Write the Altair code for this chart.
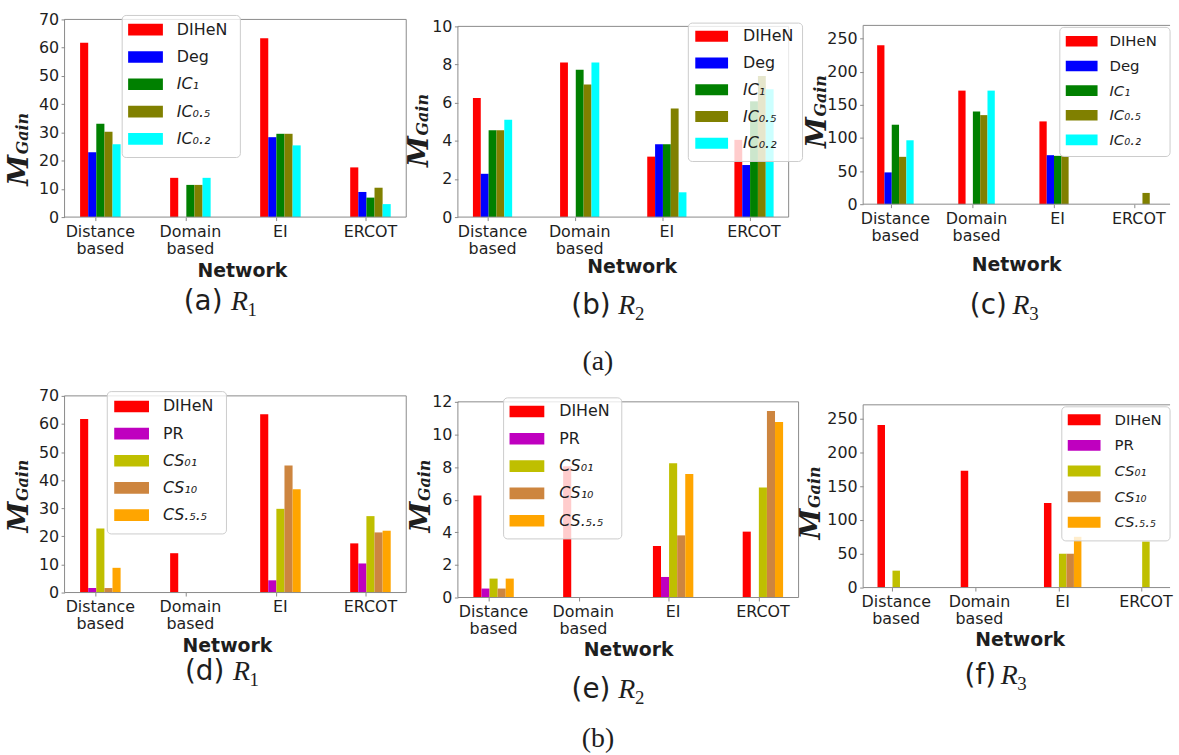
import altair as alt
import pandas as pd

# ---------------- data ----------------
categories = ["Distance based", "Domain based", "EI", "ERCOT"]

series_ic = ["DIHeN", "Deg", "IC1", "IC0.5", "IC0.2"]
labels_ic = ["DIHeN", "Deg", "IC₁", "IC₀.₅", "IC₀.₂"]
series_cs = ["DIHeN", "PR", "CS01", "CS10", "CS.5.5"]
labels_cs = ["DIHeN", "PR", "CS₀₁", "CS₁₀", "CS.₅.₅"]
italic_flags = [False, False, True, True, True]

all_series = ["DIHeN", "Deg", "IC1", "IC0.5", "IC0.2", "PR", "CS01", "CS10", "CS.5.5"]
all_colors = ["#ff0000", "#0000ff", "#008000", "#808000", "#00ffff",
              "#bf00bf", "#bfbf00", "#cd853f", "#ffa500"]

# one list per series (in series order), values in category order
r1_ic = [[61.7, 13.9, 63.3, 17.6],
         [23.0, 0.0, 28.3, 8.9],
         [33.1, 11.4, 29.5, 6.9],
         [30.2, 11.4, 29.5, 10.4],
         [25.8, 13.9, 25.4, 4.6]]
r2_ic = [[6.25, 8.1, 3.17, 4.05],
         [2.27, 0.0, 3.82, 2.73],
         [4.55, 7.73, 3.82, 6.07],
         [4.55, 6.95, 5.7, 7.4],
         [5.1, 8.1, 1.3, 6.7]]
r3_ic = [[240, 171.5, 125, 0],
         [48, 0, 74, 0],
         [120, 140, 73, 0],
         [71.5, 134.5, 73, 17],
         [96.5, 171.5, 0, 0]]
r1_cs = [[61.8, 14.0, 63.5, 17.5],
         [1.6, 0.0, 4.35, 10.35],
         [22.8, 0.0, 29.8, 27.2],
         [1.6, 0.0, 45.2, 21.4],
         [8.8, 0.0, 36.8, 22.0]]
r2_cs = [[6.25, 8.05, 3.16, 4.04],
         [0.55, 0.0, 1.26, 0.0],
         [1.16, 0.0, 8.23, 6.75],
         [0.55, 0.0, 3.81, 11.44],
         [1.16, 0.0, 7.57, 10.77]]
r3_cs = [[240, 172.5, 125, 0],
         [0, 0, 0, 0],
         [25, 0, 50, 68],
         [0, 0, 50, 0],
         [0, 0, 75, 0]]

yt_70 = [0, 10, 20, 30, 40, 50, 60, 70]
yt_10 = [0, 2, 4, 6, 8, 10]
yt_12 = [0, 2, 4, 6, 8, 10, 12]
yt_250 = [0, 50, 100, 150, 200, 250]

# ---------------- styling helpers ----------------
one = pd.DataFrame({"k": [0]})
FRAME = "#8a8a8a"
TXT = "#1e1e1e"
color_scale = alt.Scale(domain=all_series, range=all_colors)


def text_mark(s, x, y, size, font, weight="normal", style="normal", angle=0):
    return alt.Chart(one).mark_text(
        text=s, font=font, fontSize=size, fontWeight=weight, fontStyle=style,
        angle=angle, align="center", baseline="middle", color=TXT
    ).encode(x=alt.value(x), y=alt.value(y))


def rule_mark(x, y, x2, y2, color=FRAME):
    return alt.Chart(one).mark_rule(color=color, strokeWidth=1).encode(
        x=alt.value(x), y=alt.value(y), x2=alt.value(x2), y2=alt.value(y2))


def panel(values, series, labels, ymax, yticks, L):
    rows = []
    for s, vals in zip(series, values):
        for c, v in zip(categories, vals):
            rows.append({"network": c, "series": s, "value": v})
    df = pd.DataFrame(rows)
    H, XR, YT, FR = L["h"], L["xr"], L["ytop"], L["fr"]

    bars = alt.Chart(df).mark_bar().encode(
        x=alt.X("network:N", title=None,
                scale=alt.Scale(domain=categories, range=[0, XR],
                                paddingInner=0.55, paddingOuter=0.1725),
                axis=alt.Axis(labelAngle=0, labelExpr="split(datum.label, ' ')",
                              bandPosition=0.4, domain=False, grid=False,
                              tickSize=3.5, tickColor=FRAME, tickWidth=1,
                              labelFont="DejaVu Sans", labelFontSize=16,
                              labelColor=TXT, labelPadding=3, labelLineHeight=17,
                              labelOverlap=False, labelBaseline="top")),
        xOffset=alt.XOffset("series:N",
                            scale=alt.Scale(domain=series, paddingInner=0, paddingOuter=0)),
        y=alt.Y("value:Q", title=None,
                scale=alt.Scale(domain=[0, ymax], range=[H, YT], nice=False, zero=True),
                axis=alt.Axis(values=yticks, domain=False, grid=False,
                              tickSize=3.5, tickColor=FRAME, tickWidth=1,
                              labelFont="DejaVu Sans", labelFontSize=16,
                              labelColor=TXT, labelPadding=2.5, labelOverlap=False)),
        color=alt.Color("series:N", scale=color_scale, legend=None),
    )

    frame = [rule_mark(0, YT, 0, H), rule_mark(0, H, FR, H), rule_mark(0, YT, FR, YT)]
    if L["right"]:
        frame.append(rule_mark(FR, YT, FR, H))

    ldf = pd.DataFrame({"series": series, "label": labels,
                        "idx": list(range(len(series))), "italic": italic_flags})
    ysc = alt.Scale(domain=[0, len(series) - 1], range=[L["r0"], L["r1"]])
    bx0, by0, bx1, by1 = L["box"]
    box = alt.Chart(one).mark_rect(
        fill="white", fillOpacity=0.8, stroke="#cccccc", strokeWidth=1, cornerRadius=4
    ).encode(x=alt.value(bx0), x2=alt.value(bx1), y=alt.value(by0), y2=alt.value(by1))
    sww = L["sww"]
    sw = alt.Chart(ldf).mark_point(
        shape="M-1,-0.334H1V0.334H-1Z", filled=True, opacity=1,
        size=sww * sww, strokeWidth=0
    ).encode(x=alt.value(L["swx"]), y=alt.Y("idx:Q", scale=ysc, axis=None),
             color=alt.Color("series:N", scale=color_scale, legend=None))
    lt_plain = alt.Chart(ldf).transform_filter("!datum.italic").mark_text(
        align="left", baseline="middle", font="DejaVu Sans", fontSize=L["lfs"], color=TXT
    ).encode(x=alt.value(L["tx"]), y=alt.Y("idx:Q", scale=ysc, axis=None), text="label:N")
    lt_it = alt.Chart(ldf).transform_filter("datum.italic").mark_text(
        align="left", baseline="middle", font="DejaVu Sans", fontSize=L["lfs"],
        fontStyle="italic", color=TXT
    ).encode(x=alt.value(L["tx"]), y=alt.Y("idx:Q", scale=ysc, axis=None), text="label:N")

    cy = L["capxy"][1]
    extra = [
        text_mark("Network", L["net"][0], L["net"][1], 19, "DejaVu Sans", weight="bold"),
        text_mark("M", L["m"][0], L["m"][1], 28, "DejaVu Serif", weight="bold",
                  style="italic", angle=270),
        text_mark("Gain", L["g"][0], L["g"][1], 16, "DejaVu Serif", weight="bold",
                  style="italic", angle=270),
        text_mark(L["cap"], L["capxy"][0], cy, 28, "DejaVu Sans"),
        text_mark("R", L["rx"], cy, 28, "Liberation Serif", style="italic"),
        text_mark(L["sub"], L["rx"] + 13, cy + 8, 19, "Liberation Serif"),
    ]
    if "group" in L:
        g = L["group"]
        extra.append(text_mark(g[0], g[1], g[2], 28, "Liberation Serif"))
    if "anchors" in L:
        for a in L["anchors"]:
            extra.append(rule_mark(*a, color="white"))

    layers = [bars] + frame + [box, sw, lt_plain, lt_it] + extra
    return alt.layer(*layers).resolve_scale(y="independent").properties(
        width=L["w"], height=L["h"])


La = dict(w=344, h=199, xr=344, fr=344, ytop=0, right=True, box=(58, -4, 177, 139),
          swx=81.5, sww=35, tx=113, r0=10.3, r1=120.3, lfs=16, net=(179, 253),
          m=(-45, 152), g=(-42, 115), cap="(a)", capxy=(139.5, 285), rx=176,
          sub="1", anchors=[(-64.5, -16.5, -64.5, -6)])
Lb = dict(w=356, h=199, xr=333, fr=333, ytop=7, right=True, box=(232, 3.7, 347, 143),
          swx=255.5, sww=33, tx=287, r0=17, r1=124.7, lfs=16, net=(175.5, 249),
          m=(-38, 133), g=(-35, 96), cap="(b)", capxy=(134, 289), rx=170,
          sub="2", group=("(a)", 141, 345))
Lc = dict(w=309, h=186, xr=310, fr=309, ytop=6, right=False, box=(198, 8, 309, 138),
          swx=220, sww=32, tx=248, r0=22, r1=121.3, lfs=15, net=(154.5, 247.5),
          m=(-45, 114), g=(-42, 77), cap="(c)", capxy=(126, 289), rx=159,
          sub="3")
Ld = dict(w=344, h=198, xr=344, fr=344, ytop=0, right=True, box=(43, -4.3, 163, 139),
          swx=67.5, sww=35, tx=99, r0=10.7, r1=120, lfs=16, net=(164, 252),
          m=(-45, 122), g=(-42, 85), cap="(d)", capxy=(141, 278), rx=178,
          sub="1")
Le = dict(w=356, h=203, xr=343, fr=343, ytop=6, right=True, box=(46, 2, 165, 144),
          swx=69.5, sww=35, tx=102, r0=15.7, r1=125.7, lfs=16, net=(172, 256),
          m=(-36, 122), g=(-33, 85), cap="(e)", capxy=(134, 296), rx=170,
          sub="2", group=("(b)", 141, 346))
Lf = dict(w=309, h=193, xr=318, fr=309, ytop=9, right=False, box=(200, 11, 309, 146),
          swx=222.5, sww=33, tx=253, r0=24, r1=127.3, lfs=15, net=(158, 246),
          m=(-51, 129), g=(-48, 92), cap="(f)", capxy=(118, 282), rx=147,
          sub="3", anchors=[(308.5, 300, 308.5, 357.5)])

pa = panel(r1_ic, series_ic, labels_ic, 70, yt_70, La)
pb = panel(r2_ic, series_ic, labels_ic, 10, yt_10, Lb)
pc = panel(r3_ic, series_ic, labels_ic, 270, yt_250, Lc)
pd_ = panel(r1_cs, series_cs, labels_cs, 70, yt_70, Ld)
pe = panel(r2_cs, series_cs, labels_cs, 12, yt_12, Le)
pf = panel(r3_cs, series_cs, labels_cs, 270, yt_250, Lf)

chart = alt.concat(
    pa, pb, pc, pd_, pe, pf, columns=3,
    spacing={"row": 180, "column": 52}, bounds="flush"
).resolve_scale(xOffset="independent").properties(
    padding=0, background="white").configure_view(strokeWidth=0)

chart.save("out.html", embed_options={"renderer": "svg", "actions": False})
